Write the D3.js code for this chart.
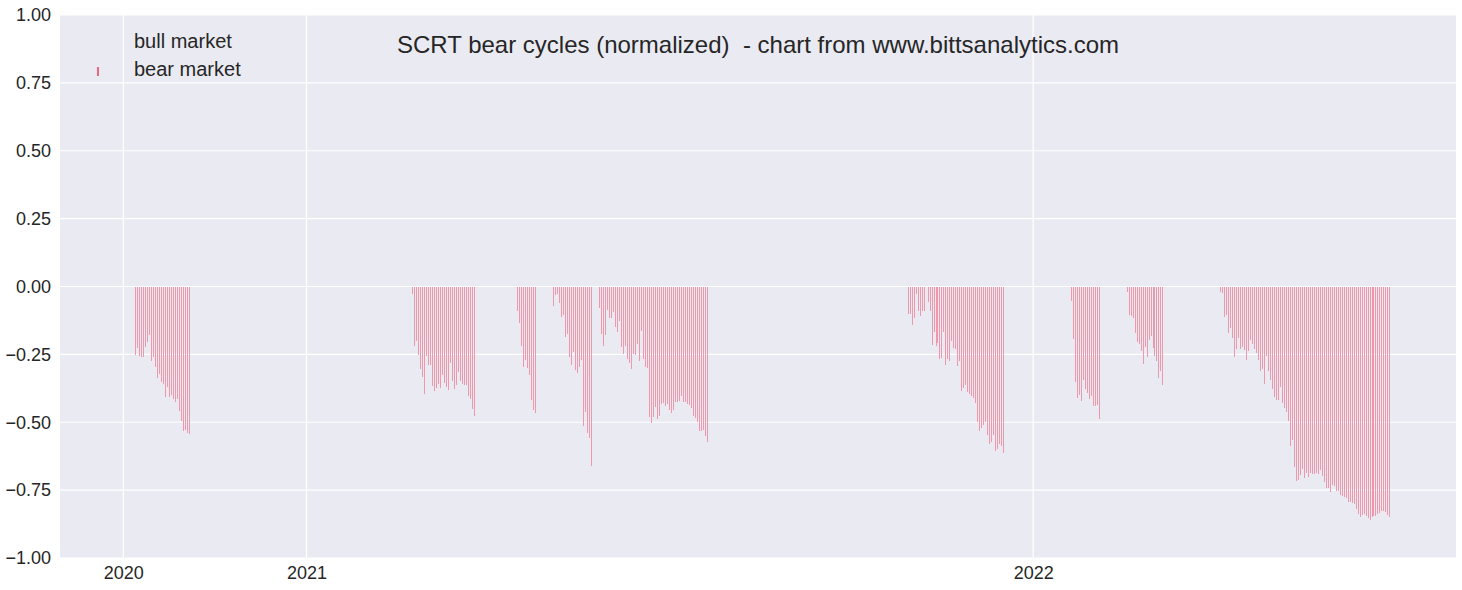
<!DOCTYPE html>
<html>
<head>
<meta charset="utf-8">
<script src="https://cdn.jsdelivr.net/npm/d3@7"></script>
<style>
  html, body { margin: 0; padding: 0; background: #ffffff; }
  svg { display: block; }
  text { font-family: "Liberation Sans", Arial, sans-serif; fill: #262626; }
</style>
</head>
<body>
<svg id="chart" width="1462" height="590"></svg>
<script>
// ---- data (day index 0 = first day of the series) ----
const yearLabels = ["2020", "2021", "2022"];
const yearTickIndex = [0, 92, 457];
const yTicks = [-1, -0.75, -0.5, -0.25, 0, 0.25, 0.5, 0.75, 1];
const seriesNames = ["bull market", "bear market"];

const cycleStart = [6, 145, 198, 216, 239, 394, 476, 504, 551];

const cycle1 = [-0.253,-0.228,-0.256,-0.261,-0.261,-0.224,-0.206,-0.180,-0.276,-0.261,-0.298,-0.338,-0.324,-0.353,-0.360,-0.408,-0.370,-0.408,-0.401,-0.416,-0.427,-0.416,-0.460,-0.497,-0.533,-0.530,-0.541,-0.544];
const cycle2 = [-0.029,-0.220,-0.202,-0.253,-0.305,-0.334,-0.397,-0.257,-0.290,-0.290,-0.368,-0.386,-0.375,-0.360,-0.375,-0.327,-0.357,-0.371,-0.382,-0.283,-0.348,-0.379,-0.364,-0.316,-0.349,-0.360,-0.364,-0.364,-0.404,-0.416,-0.452,-0.478];
const cycle3 = [-0.091,-0.134,-0.220,-0.298,-0.272,-0.301,-0.327,-0.419,-0.456,-0.467];
const cycle4 = [-0.073,-0.032,-0.029,-0.062,-0.113,-0.106,-0.187,-0.176,-0.261,-0.290,-0.242,-0.309,-0.320,-0.298,-0.272,-0.515,-0.463,-0.541,-0.559,-0.662];
const cycle5 = [-0.080,-0.176,-0.220,-0.180,-0.088,-0.117,-0.117,-0.095,-0.150,-0.169,-0.128,-0.224,-0.250,-0.220,-0.268,-0.283,-0.305,-0.250,-0.253,-0.213,-0.276,-0.165,-0.268,-0.298,-0.301,-0.482,-0.504,-0.482,-0.445,-0.489,-0.478,-0.434,-0.430,-0.441,-0.434,-0.456,-0.467,-0.456,-0.427,-0.427,-0.423,-0.404,-0.427,-0.427,-0.434,-0.438,-0.449,-0.478,-0.486,-0.500,-0.533,-0.533,-0.530,-0.552,-0.574];
const cycle6 = [-0.103,-0.103,-0.143,-0.117,-0.029,-0.091,-0.110,-0.091,-0.091,0,-0.058,-0.091,-0.217,-0.169,-0.220,-0.209,-0.268,-0.265,-0.169,-0.290,-0.268,-0.276,-0.202,-0.228,-0.231,-0.294,-0.276,-0.386,-0.375,-0.364,-0.390,-0.397,-0.404,-0.412,-0.430,-0.500,-0.533,-0.522,-0.511,-0.500,-0.548,-0.581,-0.574,-0.548,-0.607,-0.600,-0.581,-0.589,-0.614];
const cycle7 = [-0.055,-0.195,-0.353,-0.412,-0.401,-0.423,-0.346,-0.379,-0.393,-0.416,-0.404,-0.441,-0.441,-0.438,-0.489];
const cycle8 = [-0.021,-0.106,-0.110,-0.117,-0.172,-0.206,-0.213,-0.239,-0.287,-0.224,-0.261,-0.198,-0.183,-0.228,-0.257,-0.276,-0.338,-0.312,-0.364];
const cycle9 = [-0.021,-0.025,-0.113,-0.106,-0.172,-0.154,-0.191,-0.261,-0.231,-0.191,-0.231,-0.224,-0.235,-0.272,-0.239,-0.198,-0.213,-0.231,-0.246,-0.272,-0.312,-0.305,-0.360,-0.257,-0.312,-0.346,-0.379,-0.408,-0.419,-0.419,-0.371,-0.430,-0.449,-0.463,-0.497,-0.589,-0.567,-0.666,-0.718,-0.714,-0.696,-0.674,-0.707,-0.688,-0.703,-0.688,-0.692,-0.692,-0.688,-0.692,-0.677,-0.699,-0.721,-0.743,-0.743,-0.758,-0.732,-0.736,-0.754,-0.754,-0.769,-0.773,-0.776,-0.780,-0.795,-0.795,-0.799,-0.802,-0.821,-0.839,-0.850,-0.843,-0.839,-0.846,-0.854,-0.861,-0.850,-0.846,-0.846,-0.839,-0.835,-0.828,-0.828,-0.832,-0.843,-0.850];

const cycles = [cycle1, cycle2, cycle3, cycle4, cycle5, cycle6, cycle7, cycle8, cycle9];
const bars = [];
cycles.forEach((vals, k) => {
  vals.forEach((v, j) => bars.push({ idx: cycleStart[k] + j, v }));
});

// ---- layout ----
const svg = d3.select("#chart");
const L = 60, R = 1456, T = 15, B = 558;
const x = d3.scaleLinear().domain([0, 636]).range([123.739, 123.739 + 636 * 1.990847]);
const y = d3.scaleLinear().domain([-1, 1]).range([B, T]);

svg.append("rect").attr("x", L).attr("y", T).attr("width", R - L).attr("height", B - T).attr("fill", "#EAEAF2");

// grid
svg.append("g").selectAll("line").data(yTicks).join("line")
  .attr("x1", L).attr("x2", R)
  .attr("y1", d => y(d)).attr("y2", d => y(d))
  .attr("stroke", "#ffffff").attr("stroke-width", 1.2);
svg.append("g").selectAll("line").data(yearTickIndex).join("line")
  .attr("x1", d => x(d) - 0.4).attr("x2", d => x(d) - 0.4)
  .attr("y1", T).attr("y2", B)
  .attr("stroke", "#ffffff").attr("stroke-width", 1.2);

// bars (drawdown days)
svg.append("g").attr("shape-rendering", "crispEdges").selectAll("rect").data(bars).join("rect")
  .attr("x", d => Math.floor(x(d.idx)))
  .attr("width", 1)
  .attr("y", y(0))
  .attr("height", d => Math.max(0, y(d.v) - y(0)))
  .attr("fill", "#ef98ac");

// axes labels
const yAxis = d3.axisLeft(y).tickValues(yTicks).tickSize(0).tickPadding(9);
const gy = svg.append("g").attr("transform", `translate(${L},0)`).call(yAxis);
gy.select(".domain").remove();
gy.selectAll("text").attr("font-size", 18).attr("fill", "#262626")
  .text(d => d3.format(".2f")(d).replace("-", "\u2212"));

const xAxis = d3.axisBottom(x).tickValues(yearTickIndex).tickFormat((d, i) => yearLabels[i]).tickSize(0).tickPadding(8);
const gx = svg.append("g").attr("transform", `translate(-0.4,${B})`).call(xAxis);
gx.select(".domain").remove();
gx.selectAll("text").attr("font-size", 18).attr("fill", "#262626");

// title
svg.append("text").attr("x", (L + R) / 2).attr("y", 53).attr("text-anchor", "middle")
  .attr("font-size", 24).style("white-space", "pre")
  .text("SCRT bear cycles (normalized)  - chart from www.bittsanalytics.com");

// legend
svg.append("text").attr("x", 134).attr("y", 48).attr("font-size", 20).text(seriesNames[0]);
svg.append("line").attr("x1", 98).attr("x2", 98).attr("y1", 67).attr("y2", 76)
  .attr("stroke", "#f06680").attr("stroke-width", 2);
svg.append("text").attr("x", 134).attr("y", 76).attr("font-size", 20).text(seriesNames[1]);
</script>
</body>
</html>
